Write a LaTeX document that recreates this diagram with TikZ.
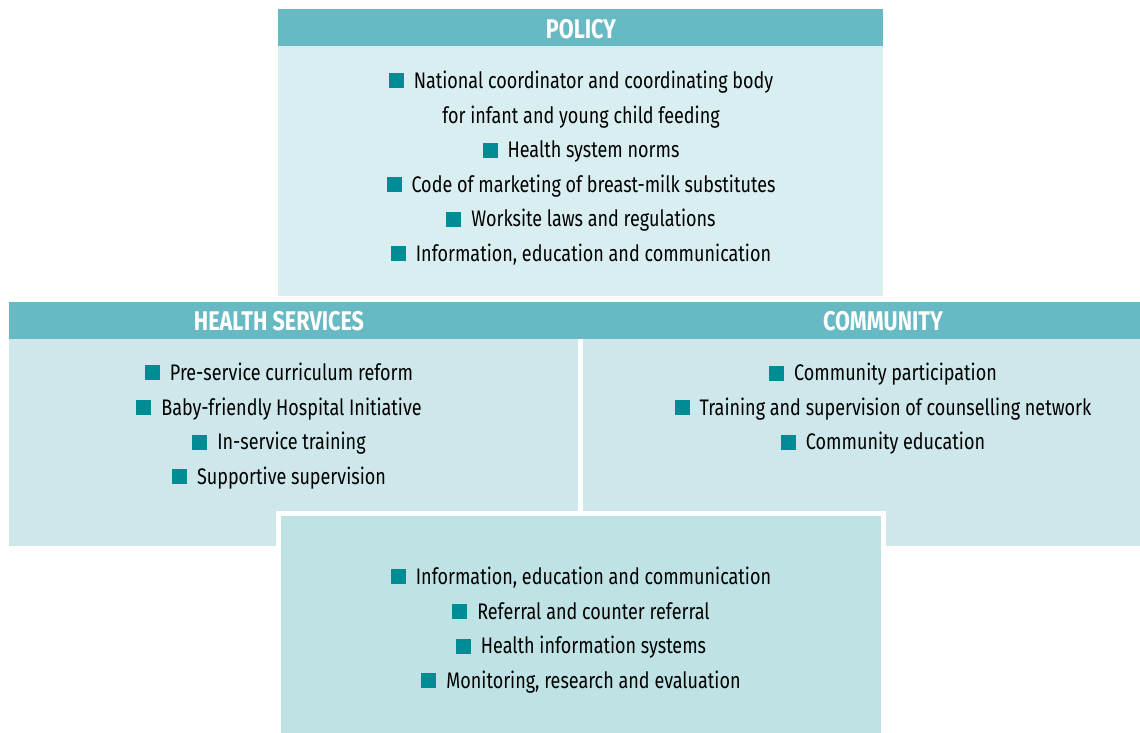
\documentclass[tikz,border=0pt]{standalone}
\usepackage{fontspec}
\setmainfont{Fira Sans}[FakeStretch=0.8]
\usetikzlibrary{positioning}
\definecolor{headbg}{HTML}{67BAC3}
\definecolor{polbg}{HTML}{D9EEF1}
\definecolor{midbg}{HTML}{CDE7EA}
\definecolor{lowbg}{HTML}{BFE2E5}
\definecolor{sq}{HTML}{008C95}
\newcommand{\sqb}{\textcolor{sq}{\rule{15pt}{15pt}}\hspace{10pt}}

\begin{document}
\begin{tikzpicture}[x=1pt, y=-1pt,
  box/.style = {inner sep=0pt, outer sep=0pt, anchor=north west},
  head/.style = {text=white, font=\fontsize{27}{27}\selectfont\bfseries},
  items/.style = {align=center, font=\fontsize{22.5}{34.6}\selectfont}]
\useasboundingbox (0,0) rectangle (1140,733);
% policy
\node[box, fill=headbg, minimum width=605, minimum height=37] (polh) at (278,9) {};
\node[box, fill=polbg, minimum width=605, minimum height=250] (pol) at (278,46) {};
% health services and community
\node[box, fill=headbg, minimum width=1131, minimum height=37] (midh) at (9,302) {};
\node[box, fill=midbg, minimum width=569, minimum height=207] (hs) at (9,339) {};
\node[box, fill=midbg, minimum width=557, minimum height=207] (com) at (583,339) {};
% shared part
\node[box, fill=lowbg, draw=white, line width=5, minimum width=605, minimum height=222] (low) at (278.5,513.5) {};
\node[head] (polt) at (581,29) {POLICY};
\node[head] (hst) at (279,321) {HEALTH SERVICES};
\node[head] (comt) at (883,321) {COMMUNITY};
\node[items] (poltx) at (581,168) {\sqb National coordinator and coordinating body\\
  for infant and young child feeding\\ \sqb Health system norms\\
  \sqb Code of marketing of breast-milk substitutes\\ \sqb Worksite laws and regulations\\
  \sqb Information, education and communication};
\node[items] (hstx) at (279,426) {\sqb Pre-service curriculum reform\\ \sqb Baby-friendly Hospital Initiative\\
  \sqb In-service training\\ \sqb Supportive supervision};
\node[items] (comtx) at (883,409) {\sqb Community participation\\
  \sqb Training and supervision of counselling network\\ \sqb Community education};
\node[items] (lowtx) at (581,630) {\sqb Information, education and communication\\ \sqb Referral and counter referral\\
  \sqb Health information systems\\ \sqb Monitoring, research and evaluation};
\end{tikzpicture}
\end{document}
